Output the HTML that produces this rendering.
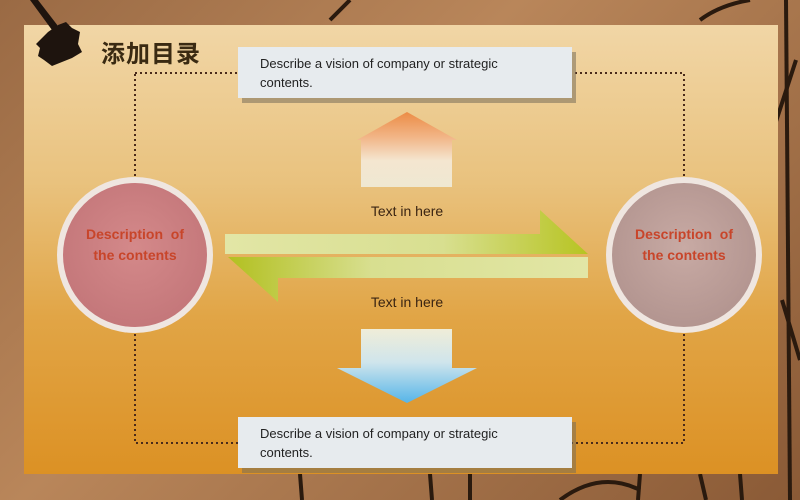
<!DOCTYPE html>
<html><head><meta charset="utf-8"><style>
html,body{margin:0;padding:0}
body{width:800px;height:500px;overflow:hidden;position:relative;background:linear-gradient(135deg,#9a6a44,#b9865a 40%,#8a5a36 100%);font-family:"Liberation Sans","Noto Sans CJK SC",sans-serif}
.panel{position:absolute;left:24px;top:25px;width:754px;height:449px;background:linear-gradient(180deg,#f1d6a6 0%,#e9c27e 35%,#e1a546 65%,#dc9124 100%)}
.box{position:absolute;left:238px;width:334px;height:51px;background:#e7ebee;box-shadow:4px 5px 0 rgba(120,110,90,.55);font-size:13px;color:#222;line-height:19px;padding:7px 0 0 22px;box-sizing:border-box}
.t{position:absolute;font-size:14px;color:#3a2412;width:120px;text-align:center}
.ct{position:absolute;width:156px;text-align:center;font-weight:bold;font-size:14px;color:#c8452a;line-height:21px}
</style></head><body>
<svg width="800" height="500" style="position:absolute;left:0;top:0">
<g stroke="#2a1a0e" stroke-width="4" fill="none">
<path d="M786 0 L790 500"/><path d="M796 60 L770 140"/><path d="M782 300 L800 360"/>
<path d="M300 474 L302 500"/><path d="M430 474 L432 500"/><path d="M470 474 L470 500"/><path d="M640 474 L638 500"/><path d="M700 474 L706 500"/><path d="M740 474 L742 500"/>
<path d="M560 500 Q600 470 640 490"/><path d="M330 20 L350 0"/><path d="M700 20 Q720 5 750 0"/>
</g>
</svg>
<div class="panel"></div>
<svg width="800" height="500" style="position:absolute;left:0;top:0">
<defs>
<linearGradient id="up" x1="0" y1="0" x2="0" y2="1"><stop offset="0" stop-color="#ec8c46"/><stop offset=".35" stop-color="#f2b78a"/><stop offset=".65" stop-color="#f4e6d0"/><stop offset="1" stop-color="#efe8d2"/></linearGradient>
<linearGradient id="dn" x1="0" y1="0" x2="0" y2="1"><stop offset="0" stop-color="#f0edd8"/><stop offset=".45" stop-color="#cfe5ec"/><stop offset="1" stop-color="#56b5e8"/></linearGradient>
<linearGradient id="gr" x1="0" y1="0" x2="1" y2="0"><stop offset="0" stop-color="#e2e6a6"/><stop offset=".6" stop-color="#d8df90"/><stop offset="1" stop-color="#b7c422"/></linearGradient>
<linearGradient id="gl" x1="1" y1="0" x2="0" y2="0"><stop offset="0" stop-color="#e2e6a6"/><stop offset=".6" stop-color="#d8df90"/><stop offset="1" stop-color="#b2c020"/></linearGradient>
<radialGradient id="c1" cx=".5" cy=".45" r=".55"><stop offset="0" stop-color="#d4898a"/><stop offset="1" stop-color="#c4777a"/></radialGradient>
<radialGradient id="c2" cx=".5" cy=".45" r=".55"><stop offset="0" stop-color="#c8aaa4"/><stop offset="1" stop-color="#b39590"/></radialGradient>
</defs>
<path d="M58 25 L66 22 L72 28 L80 32 L78 44 L82 52 L72 58 L62 62 L52 66 L44 60 L38 56 L40 48 L36 44 L42 38 L48 32 Z" fill="#1e140e"/>
<path d="M30 0 L38 0 L58 26 L52 30 Z" fill="#1e140e"/>
<rect x="135" y="73" width="549" height="370" fill="none" stroke="#4a2a1a" stroke-width="2" stroke-dasharray="2 3"/>
<circle cx="135" cy="255" r="78" fill="#efe6e0"/>
<circle cx="135" cy="255" r="72" fill="url(#c1)"/>
<circle cx="684" cy="255" r="78" fill="#efe6e0"/>
<circle cx="684" cy="255" r="72" fill="url(#c2)"/>
<path d="M407 112 L457 140 L452 140 L452 187 L361 187 L361 140 L357 140 Z" fill="url(#up)"/>
<path d="M361 329 L452 329 L452 368 L477 368 L407 403 L337 368 L361 368 Z" fill="url(#dn)"/>
<path d="M225 234 L540 234 L540 210 L588 254 L225 254 Z" fill="url(#gr)"/>
<path d="M588 257 L588 278 L278 278 L278 302 L228 257 Z" fill="url(#gl)"/>
</svg>
<div style="position:absolute;left:101px;top:34px;font-size:24px;font-weight:bold;color:#3a2a12;font-family:'Noto Sans CJK SC',sans-serif;letter-spacing:1px">添加目录</div>
<div class="box" style="top:47px">Describe a vision of company or strategic<br>contents.</div>
<div class="box" style="top:417px">Describe a vision of company or strategic<br>contents.</div>
<div class="t" style="left:347px;top:203px">Text in here</div>
<div class="t" style="left:347px;top:294px">Text in here</div>
<div class="ct" style="left:57px;top:224px">Description&nbsp; of<br>the contents</div>
<div class="ct" style="left:606px;top:224px">Description&nbsp; of<br>the contents</div>
</body></html>
